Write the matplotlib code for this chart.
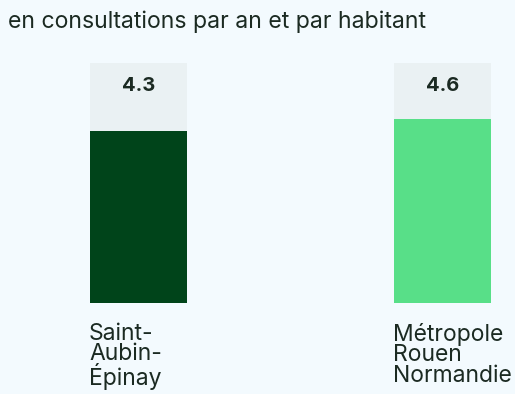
import matplotlib
matplotlib.use("Agg")
import matplotlib.pyplot as plt

plt.rcParams['font.family'] = ['Inter', 'DejaVu Sans']

categories = ["Saint-\nAubin-\nÉpinay", "Métropole\nRouen\nNormandie"]
values = [4.3, 4.6]
value_labels = ["4.3", "4.6"]
scale_max = 6.0
title = "en consultations par an et par habitant"

bg = "#F3FAFE"
track = "#EAF1F3"
bar_colors = ["#00441A", "#58DF88"]
text_color = "#1B2A22"

fig = plt.figure(figsize=(5.15, 3.94), dpi=100, facecolor=bg)
ax = fig.add_axes([0, 0, 1, 1])
ax.set_facecolor(bg)
ax.set_xlim(-0.4556, 1.2385)
ax.set_ylim(-2.275, 7.575)
ax.axis("off")

x = list(range(len(categories)))
w = 0.319
ax.bar(x, [scale_max] * len(x), width=w, color=track, zorder=1)
ax.bar(x, values, width=w, color=bar_colors, zorder=2)

for xi, lab in zip(x, value_labels):
    ax.text(xi, scale_max - 0.57, lab, ha="center", va="center",
            fontsize=14.5, fontweight="bold", color=text_color, zorder=3)

for xi, cat in zip(x, categories):
    ax.text(xi - w / 2 - 0.003, -0.5, cat, ha="left", va="top", fontsize=16.5,
            color=text_color, linespacing=0.9)

fig.text(8 / 515, 1 - 22 / 394, title, ha="left", va="center",
         fontsize=16.6, color=text_color)

fig.savefig("out.png", dpi=100, facecolor=bg)
